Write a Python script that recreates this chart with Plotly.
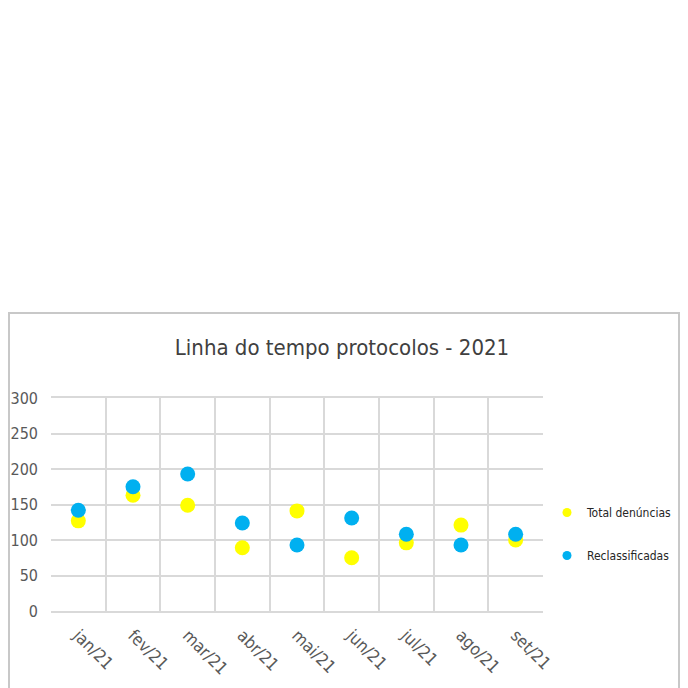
import plotly.graph_objects as go

months = ["jan/21", "fev/21", "mar/21", "abr/21", "mai/21", "jun/21", "jul/21", "ago/21", "set/21"]
total_denuncias = [127, 163, 149, 89, 141, 75, 96, 121, 100]
reclassificadas = [142, 175, 193, 124, 93, 131, 108, 93, 108]
y_ticks = [0, 50, 100, 150, 200, 250, 300]

FONT = "DejaVu Sans Condensed, Liberation Sans Narrow, Liberation Sans, sans-serif"
GRAY = "#595959"
YELLOW = "#FFFF00"
BLUE = "#00B0F0"

fig = go.Figure()
fig.add_trace(go.Scatter(
    x=months, y=total_denuncias, mode="markers", name="Total denúncias",
    marker=dict(color=YELLOW, size=15, line=dict(width=0)), showlegend=False,
))
fig.add_trace(go.Scatter(
    x=months, y=reclassificadas, mode="markers", name="Reclassificadas",
    marker=dict(color=BLUE, size=15, line=dict(width=0)), showlegend=False,
))
# legend entries with small symbols
fig.add_trace(go.Scatter(
    x=[None], y=[None], mode="markers", name="Total denúncias",
    marker=dict(color=YELLOW, size=9), legendgroup="a",
))
fig.add_trace(go.Scatter(
    x=[None], y=[None], mode="markers", name="Reclassificadas",
    marker=dict(color=BLUE, size=9), legendgroup="b",
))

# page body has an 8px offset, so margins compensate
OFF = 8
fig.update_layout(
    width=688, height=688,
    margin=dict(l=51 - OFF, r=145 + OFF, t=398 - OFF, b=77 + OFF, autoexpand=False),
    paper_bgcolor="white", plot_bgcolor="white",
    font=dict(family=FONT, color=GRAY, size=14),
    title=dict(text="Linha do tempo protocolos - 2021", x=(342 - OFF) / 688, xref="container",
               xanchor="center",
               y=1 - (347 - OFF) / 688, yanchor="middle",
               font=dict(size=22, color="#404040", family=FONT)),
    showlegend=True,
    legend=dict(x=(547 - 51) / 492, xanchor="left", y=(611 - 534) / 213, yanchor="middle",
                font=dict(size=12, color="#262626", family=FONT),
                tracegroupgap=24, itemwidth=30,
                bgcolor="rgba(0,0,0,0)"),
    xaxis=dict(type="category", tickson="boundaries", showgrid=True,
               gridcolor="#D9D9D9", gridwidth=1.5, ticks="", tickangle=45,
               showline=True, linecolor="#D9D9D9", linewidth=1.5, mirror=True,
               ticklabelstandoff=6,
               tickfont=dict(size=17, color=GRAY), range=[-0.5, 8.5]),
    yaxis=dict(range=[0, 300], tickvals=y_ticks, showgrid=True,
               gridcolor="#D9D9D9", gridwidth=1.5, zeroline=False,
               showline=False, ticks="", ticklabelstandoff=12,
               tickfont=dict(size=16, color=GRAY)),
)

# outer chart frame
fig.add_shape(type="rect", xref="paper", yref="paper",
              x0=(9 - 51) / 492, x1=(679 - 51) / 492,
              y0=(611 - 700) / 213, y1=(611 - 313) / 213,
              line=dict(color="#C8C8C8", width=2), fillcolor="rgba(0,0,0,0)",
              layer="below")

fig.write_html("out.html")
